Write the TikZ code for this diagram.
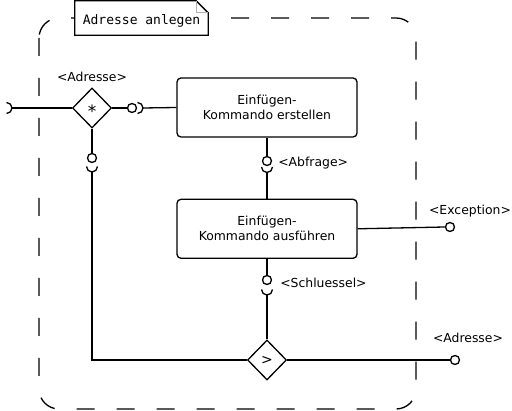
\documentclass[tikz,border=0pt]{standalone}
\usepackage{fontspec}
\setmainfont{DejaVu Sans}
\setmonofont{DejaVu Sans Mono}
\usetikzlibrary{positioning,shapes}

\begin{document}
\begin{tikzpicture}[x=1pt,y=1pt,
	action/.style={rectangle,rounded corners=4pt,draw,line width=1.3pt,minimum width=180pt,minimum height=59pt,align=center,inner sep=0pt,font=\fontsize{12.4}{15}\selectfont},
	branch/.style={diamond,draw,line width=1.3pt,fill=white,minimum width=39pt,minimum height=40pt,inner sep=0pt,font=\fontsize{14}{14}\selectfont},
	ball/.style={circle,draw,line width=1.3pt,fill=white,minimum size=9pt,inner sep=0pt},
	pinlabel/.style={inner sep=1pt,font=\fontsize{12.4}{14}\selectfont},
	note/.style={rectangle,fill=white,minimum width=133pt,minimum height=34pt,inner sep=0pt,text height=17pt,text depth=3pt,font=\ttfamily\fontsize{13}{13}\selectfont},
	flow/.style={line width=1.3pt},
	frame/.style={line width=1.3pt,dash pattern=on 18pt off 22pt,rounded corners=20pt}
	]
\useasboundingbox (0,0) rectangle (512,-411);

% activity frame and its tab
\draw [frame] (39,-18) rectangle (416,-409);
\node [note] (title) at (141.5,-18) {Adresse anlegen};
\draw [flow] (title.south west) -- (title.north west) -- ([xshift=-12pt]title.north east)
	-- ([yshift=-12pt]title.north east) -- (title.south east) -- cycle;
\draw [gray!60, line width=0.8pt] ([xshift=-12pt]title.north east) |- ([yshift=-12pt]title.north east);

\node [branch] (multi) at (92,-108) {};
\node [font=\fontsize{17}{17}\selectfont] (star) at ([yshift=-3pt]multi.center) {*};
\node [action] (create) at (267,-107.5) {Einfügen-\\Kommando erstellen};
\node [action] (execute) [below = 61pt of create] {Einfügen-\\Kommando ausführen};
\node [branch] (merge) at (267,-360) {>};

\node [ball] (outBall)  at (132,-108) {};
\node [ball] (askBall)  at (267,-161) {};
\node [ball] (loopBall) at (92,-158) {};
\node [ball] (keyBall)  at (267,-280) {};
\node [ball] (errBall)  at (450,-227) {};
\node [ball] (resBall)  at (455,-360) {};

\coordinate (inSock)   at (12,-108);
\coordinate (outSock)  at (143,-108);
\coordinate (askSock)  at (267,-172.5);
\coordinate (loopSock) at (92,-172);
\coordinate (keySock)  at (267,-295);

% sockets
\draw [flow] ([shift={(-5.5,-5.5)}]inSock) arc[start angle=-90,end angle=90,radius=5.5];
\draw [flow] ([shift={(-5.5,-5.5)}]outSock) arc[start angle=-90,end angle=90,radius=5.5];
\draw [flow] ([shift={(-5.5,5.5)}]askSock) arc[start angle=180,end angle=360,radius=5.5];
\draw [flow] ([shift={(-5.5,5.5)}]loopSock) arc[start angle=180,end angle=360,radius=5.5];
\draw [flow] ([shift={(-5.5,5.5)}]keySock) arc[start angle=180,end angle=360,radius=5.5];

\draw [flow] (inSock) -- (multi.west);
\draw [flow] (multi.east) -- (outBall.west);
\draw [flow] (outSock) -- (create.west);
\draw [flow] (multi.south) -- (loopBall.north);
\draw [flow] (loopSock) |- (merge.west);
\draw [flow] (create.south) -- (askBall.north);
\draw [flow] (askSock) -- (execute.north);
\draw [flow] (execute.south) -- (keyBall.north);
\draw [flow] (keySock) -- (merge.north);
\draw [flow] (execute.east) -- (errBall.west);
\draw [flow] (merge.east) -- (resBall.west);

\node [pinlabel] (inLbl)   at (92,-77)  {<Adresse>};
\node [pinlabel] (askLbl)  [right = 5pt of askBall, yshift=-2pt] {<Abfrage>};
\node [pinlabel] (keyLbl)  [right = 7pt of keyBall, yshift=-3pt] {<Schluessel>};
\node [pinlabel] (errLbl)  at (470,-211) {<Exception>};
\node [pinlabel] (resLbl)  at (468,-338) {<Adresse>};
\end{tikzpicture}
\end{document}
